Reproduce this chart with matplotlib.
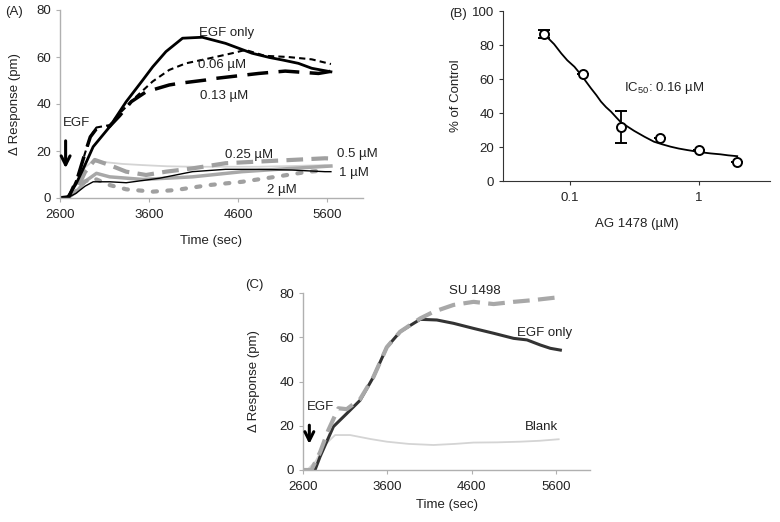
import numpy as np
import matplotlib
matplotlib.use("Agg")
import matplotlib.pyplot as plt

plt.rcParams['font.family'] = ['Liberation Sans', 'DejaVu Sans']
plt.rcParams['font.size'] = 9.5
plt.rcParams['text.color'] = '#222222'
plt.rcParams['axes.labelcolor'] = '#222222'
plt.rcParams['xtick.color'] = '#222222'
plt.rcParams['ytick.color'] = '#222222'

# ---- Panel A: time courses with AG 1478 ----
t_egf = [2600, 2680, 2780, 2880, 2972, 3157, 3343, 3529, 3640, 3789, 3975, 4197, 4458, 4755, 4950, 5100, 5275, 5425, 5640]
y_egf = [0, 0, 6, 14, 21.8, 30.3, 41, 50.2, 55.8, 62.3, 68, 68.4, 65.8, 61.6, 59.8, 58.7, 57.3, 55.2, 53.7]

t_006 = [2600, 2700, 2800, 2880, 2940, 3009, 3080, 3157, 3269, 3454, 3640, 3826, 4012, 4272, 4532, 4681, 4900, 5160, 5425, 5640]
y_006 = [0, 0.5, 9, 19, 26, 30, 30.5, 31, 36, 43.1, 49.6, 54.5, 57.3, 59.4, 61.6, 63, 60.5, 60, 59, 57]

t_013 = [2600, 2700, 2800, 2880, 2940, 3009, 3080, 3157, 3269, 3400, 3566, 3826, 3938, 4235, 4347, 4830, 5127, 5350, 5500, 5640]
y_013 = [0, 0.5, 9, 19, 26, 29.5, 30, 30.5, 35, 41, 45.2, 48.1, 48.8, 50.2, 50.9, 53, 54, 53.4, 53, 53.9]

t_025 = [2600, 2680, 2780, 2880, 2960, 3120, 3300, 3529, 3800, 4086, 4450, 4830, 5200, 5573, 5640]
y_025 = [0, 0, 6, 13, 15.5, 15.2, 14.5, 14, 13.5, 13.3, 13.3, 13.3, 13.6, 14, 13.8]

t_05 = [2600, 2680, 2780, 2880, 2990, 3157, 3343, 3566, 3789, 4086, 4458, 4830, 5201, 5573, 5640]
y_05 = [0, 0, 3, 11, 16.2, 14, 11.2, 9.8, 11.2, 12.6, 14.8, 15.5, 16.2, 16.9, 16.8]

t_1g = [2600, 2680, 2780, 2880, 3009, 3157, 3529, 4086, 4644, 5201, 5640]
y_1g = [0, 0, 2.5, 7, 10.5, 9, 7.9, 9, 11.2, 12.6, 13.6]

t_1k = [2600, 2680, 2780, 2880, 2972, 3157, 3343, 3715, 4086, 4458, 4830, 5201, 5573, 5640]
y_1k = [0, 0, 2, 5, 6.9, 6.9, 6.5, 8.4, 11.2, 12.2, 12.2, 11.9, 11.2, 11.2]

t_2 = [2600, 2680, 2780, 2880, 2972, 3157, 3343, 3640, 3900, 4272, 4644, 5015, 5387, 5573]
y_2 = [0, 0, 3, 7, 8.5, 5.5, 3.7, 2.7, 3.4, 5.5, 6.9, 9, 11.2, 11.7]

# ---- Panel B: dose response ----
dose = [0.0625, 0.125, 0.25, 0.5, 1, 2]
pct = [86.5, 62.9, 31.6, 25.1, 18.2, 11.4]
pct_err = [2.5, 0, 9.5, 0, 0, 0]
fit_x = [0.0625, 0.075, 0.0852, 0.095, 0.108, 0.1217, 0.1454, 0.16, 0.1738, 0.19, 0.208, 0.23,
         0.2486, 0.28, 0.315, 0.38, 0.45, 0.52, 0.605, 0.7, 0.817, 0.95, 1.1, 1.25, 1.48, 1.7, 2.0]
fit_y = [86.5, 80.5, 75.1, 71.0, 67.2, 62.4, 54.5, 50.5, 46.7, 43.5, 40.8, 37.2,
         34.5, 32.0, 29.5, 26.0, 23.1, 21.6, 20.2, 19.1, 18.2, 17.4, 16.7, 16.2, 15.7, 15.1, 14.6]

# ---- Panel C: SU 1498 ----
t_c_egf = [2600, 2700, 2742, 2802, 2960, 3118, 3276, 3434, 3593, 3751, 3988, 4186, 4383, 4620, 4858, 5095, 5254, 5411, 5530, 5649]
y_c_egf = [0, 0, 0, 6, 19.6, 25.5, 31.5, 42, 55.5, 62.5, 68.1, 67.8, 66.3, 64, 61.8, 59.5, 58.8, 56.5, 55, 54.2]
t_c_su = [2600, 2700, 2802, 2900, 3019, 3118, 3276, 3434, 3593, 3751, 3988, 4146, 4383, 4620, 4858, 5095, 5332, 5609]
y_c_su = [0, 0, 8, 18, 27.9, 27.5, 32, 42, 55.5, 62.5, 68.5, 71.5, 74.6, 76, 75, 76, 76.8, 78]
t_c_blank = [2600, 2650, 2750, 2850, 2980, 3157, 3400, 3593, 3850, 4146, 4400, 4620, 4900, 5174, 5400, 5629]
y_c_blank = [0, 0, 4, 11, 15.8, 15.8, 14, 12.8, 11.8, 11.3, 11.8, 12.4, 12.5, 12.8, 13.2, 13.9]

time_ticks = [2600, 3600, 4600, 5600]


def style_time_axis(ax, xpad, ypad):
    for s in ['top', 'right']:
        ax.spines[s].set_visible(False)
    for s in ['left', 'bottom']:
        ax.spines[s].set_color('#b0b0b0')
        ax.spines[s].set_linewidth(1)
    ax.tick_params(length=3, color='#b0b0b0', labelsize=9.5)
    ax.tick_params(axis='x', pad=5)
    ax.set_xlim(2600, 6000)
    ax.set_ylim(0, 80)
    ax.set_xticks(time_ticks)
    ax.set_yticks([0, 20, 40, 60, 80])
    ax.set_xlabel('Time (sec)', labelpad=xpad)
    ax.set_ylabel('Δ Response (pm)', labelpad=ypad)


fig = plt.figure(figsize=(7.8, 5.22), dpi=100)

# Panel A
axA = fig.add_axes([60/780, 1 - 198/522, 303/780, 188/522])
axA.plot(t_025, y_025, color='#d4d4d4', lw=1.3)
axA.plot(t_1g, y_1g, color='#a8a8a8', lw=2.5)
axA.plot(t_05, y_05, color='#a0a0a0', lw=3, dashes=(4, 2))
axA.plot(t_2, y_2, color='#a0a0a0', lw=3, dashes=(1, 2.5), dash_capstyle='round')
axA.plot(t_1k, y_1k, color='black', lw=1)
axA.plot(t_013, y_013, color='black', lw=2.5, dashes=(6, 3))
axA.plot(t_006, y_006, color='black', lw=1.5, dashes=(3, 2))
axA.plot(t_egf, y_egf, color='black', lw=2)
style_time_axis(axA, 10, 11)
axA.text(4161, 70.2, 'EGF only', va='center')
axA.text(4150, 56.6, '0.06 µM', va='center')
axA.text(4172, 43.5, '0.13 µM', va='center')
axA.text(4447, 18.3, '0.25 µM', va='center')
axA.text(5711, 18.6, '0.5 µM', va='center')
axA.text(5730, 10.8, '1 µM', va='center')
axA.text(4926, 3.4, '2 µM', va='center')
axA.text(2630, 31.8, 'EGF', va='center')
axA.annotate('', xy=(2663, 11.5), xytext=(2663, 25.5),
             arrowprops=dict(arrowstyle='->', lw=2.2, color='black', mutation_scale=16))
fig.text(5/780, 1 - 12/522, '(A)', va='center', ha='left')

# Panel B
axB = fig.add_axes([503/780, 1 - 181/522, 267/780, 170/522])
axB.set_xscale('log')
axB.plot(fit_x, fit_y, color='black', lw=1.3)
axB.errorbar(dose, pct, yerr=pct_err, fmt='o', mfc='white', mec='black', ecolor='black',
             ms=6.5, mew=1.4, elinewidth=1.3, capsize=4, capthick=1.3)
axB.set_xlim(0.03, 3.6)
axB.set_ylim(0, 100)
axB.set_xticks([0.1, 1])
axB.set_xticklabels(['0.1', '1'])
axB.xaxis.set_minor_locator(matplotlib.ticker.NullLocator())
axB.set_yticks([0, 20, 40, 60, 80, 100])
for s in ['top', 'right']:
    axB.spines[s].set_visible(False)
for s in ['left', 'bottom']:
    axB.spines[s].set_color('#333333')
axB.tick_params(length=3, color='#333333', labelsize=9.5)
axB.tick_params(axis='x', pad=5)
axB.set_xlabel('AG 1478 (µM)', labelpad=10)
axB.set_ylabel('% of Control', labelpad=7)
axB.text(0.261, 54.5, 'IC$_{\\mathregular{50}}$: 0.16 µM', va='center')
fig.text(449/780, 1 - 14/522, '(B)', va='center', ha='left')

# Panel C
axC = fig.add_axes([303/780, 1 - 470/522, 287/780, 177/522])
axC.plot(t_c_blank, y_c_blank, color='#d4d4d4', lw=1.3)
axC.plot(t_c_egf, y_c_egf, color='#333333', lw=2.2)
axC.plot(t_c_su, y_c_su, color='#a8a8a8', lw=3, dashes=(4, 2))
style_time_axis(axC, 4, 14)
axC.text(4640, 81, 'SU 1498', va='center', ha='center')
axC.text(5135, 62, 'EGF only', va='center')
axC.text(5233, 19.6, 'Blank', va='center')
axC.text(2651, 28.6, 'EGF', va='center')
axC.annotate('', xy=(2675, 10.5), xytext=(2675, 21.5),
             arrowprops=dict(arrowstyle='->', lw=2.2, color='black', mutation_scale=16))
fig.text(245/780, 1 - 285/522, '(C)', va='center', ha='left')

fig.savefig('out.png', dpi=100)
